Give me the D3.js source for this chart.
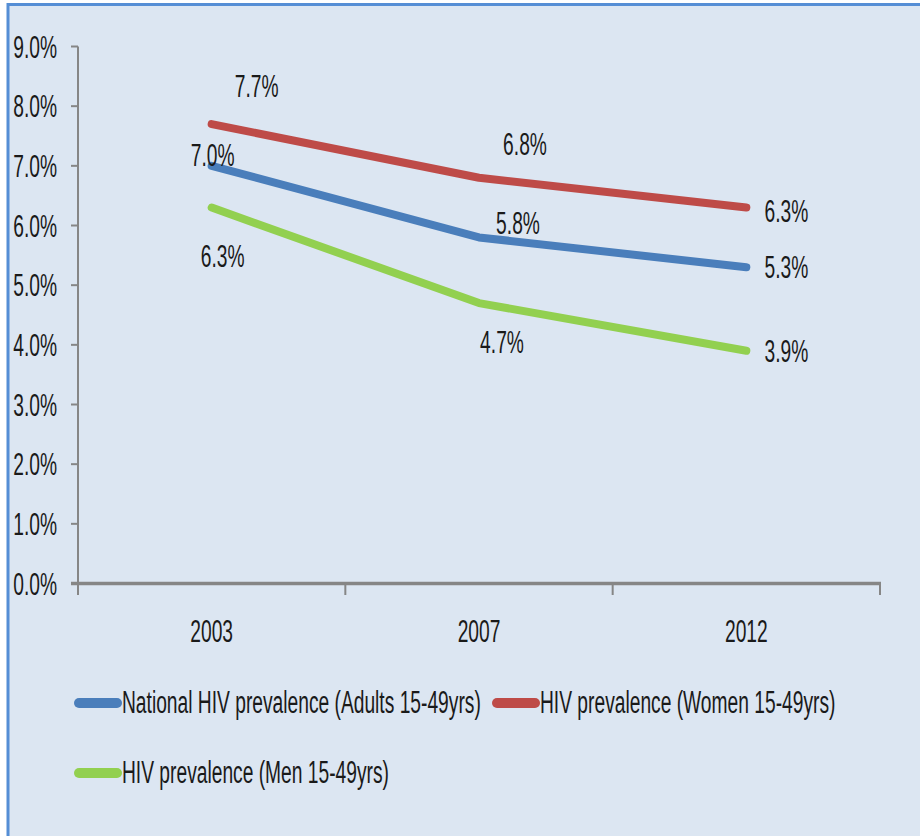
<!DOCTYPE html>
<html>
<head>
<meta charset="utf-8">
<script src="https://d3js.org/d3.v7.min.js"></script>
<style>
  body { margin: 0; background: #fff; }
  svg text { font-family: "Liberation Sans", Arial, sans-serif; fill: #1a1a1a; }
</style>
</head>
<body>
<script>
// chart data
var years = ["2003", "2007", "2012"];
var seriesNames = [
  "National HIV prevalence (Adults 15-49yrs)",
  "HIV prevalence (Women 15-49yrs)",
  "HIV prevalence (Men 15-49yrs)"
];
var nationalValues = [7.0, 5.8, 5.3];
var womenValues = [7.7, 6.8, 6.3];
var menValues = [6.3, 4.7, 3.9];
var yTicks = [0, 1, 2, 3, 4, 5, 6, 7, 8, 9];

var colors = ["#4a7ebb", "#be4b48", "#92d050"];
// label offsets from the point (dx, dy) per series / year
var labelOffsets = [
  [[1, 0], [39, -3], [40, 11]],
  [[45, -27], [46, -23], [40, 14]],
  [[11, 59], [23, 50], [40, 11]]
];

var width = 920, height = 836;
var sx = 0.62; // horizontal squeeze of the condensed font
var fs = "31px";

var svg = d3.select("body").append("svg")
  .attr("width", width)
  .attr("height", height);

svg.append("rect")
  .attr("x", 8).attr("y", 4.5)
  .attr("width", 1000).attr("height", 1000)
  .attr("fill", "#dce6f2")
  .attr("stroke", "#558ed5")
  .attr("stroke-width", 3);

var x = d3.scaleBand().domain(years).range([78, 880]);
var y = d3.scaleLinear().domain([0, 9]).range([583.5, 46.5]);

function sq(px, py) { return "translate(" + px + "," + py + ") scale(" + sx + ",1)"; }

// y axis
svg.append("line")
  .attr("x1", 78).attr("x2", 78)
  .attr("y1", y(9)).attr("y2", 594)
  .attr("stroke", "#868686").attr("stroke-width", 2);
svg.selectAll(".ytick").data(yTicks).enter().append("line")
  .attr("x1", 71).attr("x2", 78)
  .attr("y1", function(d) { return y(d); })
  .attr("y2", function(d) { return y(d); })
  .attr("stroke", "#868686").attr("stroke-width", 2);
svg.selectAll(".ylab").data(yTicks).enter().append("text")
  .attr("transform", function(d) { return sq(57, y(d)); })
  .attr("dy", "0.36em")
  .attr("text-anchor", "end")
  .style("font-size", fs)
  .text(function(d) { return d.toFixed(1) + "%"; });

// x axis
svg.append("line")
  .attr("x1", 71).attr("x2", 881)
  .attr("y1", 583.5).attr("y2", 583.5)
  .attr("stroke", "#868686").attr("stroke-width", 3.5);
var xTickPos = years.map(function(d) { return x(d); }).concat([x.range()[1]]);
svg.selectAll(".xtick").data(xTickPos).enter().append("line")
  .attr("x1", function(d) { return d; })
  .attr("x2", function(d) { return d; })
  .attr("y1", 583.5).attr("y2", 595)
  .attr("stroke", "#868686").attr("stroke-width", 2);
svg.selectAll(".xlab").data(years).enter().append("text")
  .attr("transform", function(d) { return sq(x(d) + x.bandwidth() / 2, 642); })
  .attr("text-anchor", "middle")
  .style("font-size", fs)
  .text(function(d) { return d; });

// lines
var allSeries = [nationalValues, womenValues, menValues];
var line = d3.line()
  .x(function(d, i) { return x(years[i]) + x.bandwidth() / 2; })
  .y(function(d) { return y(d); });

allSeries.forEach(function(vals, s) {
  svg.append("path")
    .datum(vals)
    .attr("d", line)
    .attr("fill", "none")
    .attr("stroke", colors[s])
    .attr("stroke-width", 8)
    .attr("stroke-linecap", "round")
    .attr("stroke-linejoin", "round");
});

// data labels
allSeries.forEach(function(vals, s) {
  svg.selectAll(".lab" + s).data(vals).enter().append("text")
    .attr("transform", function(d, i) {
      var px = x(years[i]) + x.bandwidth() / 2 + labelOffsets[s][i][0];
      var py = y(d) + labelOffsets[s][i][1];
      return sq(px, py);
    })
    .attr("text-anchor", "middle")
    .style("font-size", fs)
    .text(function(d) { return d.toFixed(1) + "%"; });
});

// legend
var legendPos = [[75, 703], [493, 703], [75, 773]];
seriesNames.forEach(function(name, s) {
  var g = svg.append("g").attr("transform", "translate(" + legendPos[s][0] + "," + legendPos[s][1] + ")");
  g.append("line")
    .attr("x1", 4).attr("x2", 42)
    .attr("y1", 0).attr("y2", 0)
    .attr("stroke", colors[s])
    .attr("stroke-width", 10)
    .attr("stroke-linecap", "round");
  g.append("text")
    .attr("transform", sq(47, 10))
    .style("font-size", fs)
    .text(name);
});
</script>
</body>
</html>
